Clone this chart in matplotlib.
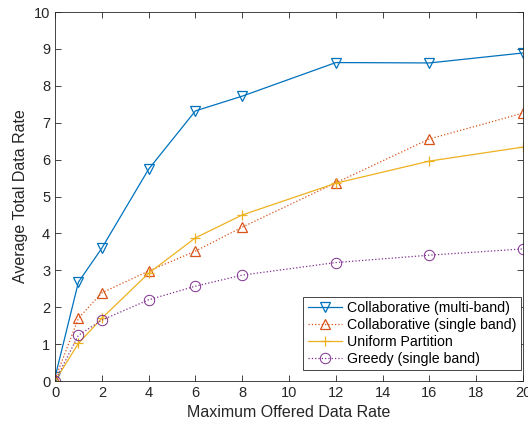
import matplotlib
matplotlib.use('Agg')
import matplotlib.pyplot as plt

plt.rcParams['font.family'] = ['Liberation Sans', 'DejaVu Sans']

x = [0, 1, 2, 4, 6, 8, 12, 16, 20]
collab_multi = [0.1, 2.68, 3.6, 5.74, 7.32, 7.72, 8.63, 8.62, 8.89]
collab_single = [0.05, 1.7, 2.39, 2.98, 3.52, 4.17, 5.37, 6.56, 7.26]
uniform = [0.0, 1.02, 1.7, 2.92, 3.88, 4.5, 5.36, 5.96, 6.34]
greedy = [0.0, 1.24, 1.65, 2.2, 2.57, 2.87, 3.21, 3.41, 3.58]

labels = ['Collaborative (multi-band)', 'Collaborative (single band)',
          'Uniform Partition', 'Greedy (single band)']

fig = plt.figure(figsize=(5.28, 4.26), dpi=100)
ax = fig.add_axes([0.1042, 0.1056, 0.8863, 0.8662])

ax.plot(x, collab_multi, '-v', color='#0072BD', lw=0.9, ms=7.5,
        mfc='none', mew=0.9, label=labels[0])
ax.plot(x, collab_single, ':^', color='#D95319', lw=0.9, ms=7.5,
        mfc='none', mew=0.9, label=labels[1])
ax.plot(x, uniform, '-+', color='#EDB120', lw=0.9, ms=7.5,
        mew=0.9, label=labels[2])
ax.plot(x, greedy, ':o', color='#7E2F8E', lw=0.9, ms=7.5,
        mfc='none', mew=0.7, label=labels[3])

ax.set_xlim(0, 20)
ax.set_ylim(0, 10)
ax.set_xticks(range(0, 21, 2))
ax.set_yticks(range(0, 11))
ax.tick_params(direction='in', top=True, right=True, labelsize=10.5,
               colors='#262626', length=4, width=0.6)
for s in ax.spines.values():
    s.set_linewidth(0.6)
    s.set_color('#262626')
ax.set_xlabel('Maximum Offered Data Rate', fontsize=11.5, color='#262626')
ax.set_ylabel('Average Total Data Rate', fontsize=11.5, color='#262626')

leg = ax.legend(loc='lower right', fontsize=10.2, fancybox=False,
                edgecolor='#262626', framealpha=1, handlelength=2.4,
                borderpad=0.3, labelspacing=0.2, handletextpad=0.4,
                borderaxespad=0, bbox_to_anchor=(0.9957, 0.03))
leg.get_frame().set_linewidth(0.6)

fig.savefig('out.png', dpi=100)
